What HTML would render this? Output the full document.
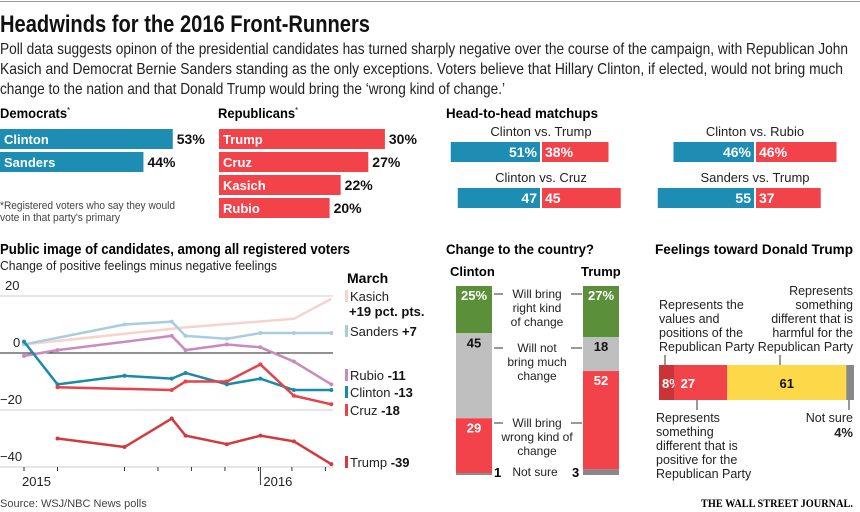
<!DOCTYPE html>
<html><head><meta charset="utf-8"><style>
html,body{margin:0;padding:0;background:#fff;}
svg{display:block;font-family:"Liberation Sans",sans-serif;}
.b{font-weight:bold;}
</style></head><body>
<svg id="g" width="860" height="512" viewBox="0 0 860 512">
<line x1="0" y1="1.5" x2="860" y2="1.5" stroke="#999"/>
<text x="0" y="32" font-size="24" class="b" textLength="370" lengthAdjust="spacingAndGlyphs" fill="#111">Headwinds for the 2016 Front-Runners</text>
<g font-size="16" fill="#222">
<text x="0" y="54" textLength="848" lengthAdjust="spacingAndGlyphs">Poll data suggests opinon of the presidential candidates has turned sharply negative over the course of the campaign, with Republican John</text>
<text x="0" y="74" textLength="843" lengthAdjust="spacingAndGlyphs">Kasich and Democrat Bernie Sanders standing as the only exceptions. Voters believe that Hillary Clinton, if elected, would not bring much</text>
<text x="0" y="94" textLength="505" lengthAdjust="spacingAndGlyphs">change to the nation and that Donald Trump would bring the ‘wrong kind of change.’</text>
</g>
<text x="0" y="118" font-size="14" class="b" textLength="70" lengthAdjust="spacingAndGlyphs">Democrats<tspan font-size="8" dy="-5" font-weight="normal">*</tspan></text>
<text x="218" y="118" font-size="14" class="b" textLength="80" lengthAdjust="spacingAndGlyphs">Republicans<tspan font-size="8" dy="-5" font-weight="normal">*</tspan></text>
<g font-size="11" fill="#444">
<text x="0" y="209" textLength="175" lengthAdjust="spacingAndGlyphs">*Registered voters who say they would</text>
<text x="0" y="221" textLength="120" lengthAdjust="spacingAndGlyphs">vote in that party's primary</text>
</g>
<text x="446" y="118" font-size="14" class="b" textLength="152" lengthAdjust="spacingAndGlyphs">Head-to-head matchups</text>
<g id="primary"></g>
<g id="h2h"></g>

<text x="0" y="254" font-size="15" class="b" textLength="350" lengthAdjust="spacingAndGlyphs">Public image of candidates, among all registered voters</text>
<text x="0" y="270" font-size="12.5" fill="#222" textLength="277" lengthAdjust="spacingAndGlyphs">Change of positive feelings minus negative feelings</text>
<text x="347" y="283" font-size="14" class="b">March</text>
<g id="lines"></g>
<text x="0" y="507" font-size="11" fill="#444">Source: WSJ/NBC News polls</text>

<text x="446" y="254" font-size="14" class="b" textLength="148" lengthAdjust="spacingAndGlyphs">Change to the country?</text>
<text x="450" y="276" font-size="13" class="b">Clinton</text>
<text x="581" y="276" font-size="13" class="b">Trump</text>
<g id="change"></g>
<g font-size="12" fill="#222" text-anchor="middle">
<text x="537" y="298">Will bring</text><text x="537" y="312">right kind</text><text x="537" y="326">of change</text>
<text x="537" y="352">Will not</text><text x="537" y="366">bring much</text><text x="537" y="380">change</text>
<text x="537" y="427">Will bring</text><text x="537" y="441">wrong kind of</text><text x="537" y="455">change</text>
<text x="535" y="476">Not sure</text>
</g>
<g stroke="#333" stroke-width="1">
<line x1="494" y1="294" x2="503" y2="294"/><line x1="571" y1="294" x2="582" y2="294"/>
<line x1="494" y1="348" x2="503" y2="348"/><line x1="571" y1="348" x2="582" y2="348"/>
<line x1="494" y1="423" x2="503" y2="423"/><line x1="571" y1="423" x2="582" y2="423"/>
</g>
<text x="494" y="477" font-size="13" class="b">1</text>
<text x="572" y="477" font-size="13" class="b">3</text>

<text x="655" y="254" font-size="14" class="b" textLength="198" lengthAdjust="spacingAndGlyphs">Feelings toward Donald Trump</text>
<g id="feel"></g>
<g font-size="12.5" fill="#222">
<text x="659" y="309">Represents the</text><text x="659" y="323">values and</text><text x="659" y="337">positions of the</text><text x="659" y="351">Republican Party</text>
<g text-anchor="end"><text x="853" y="295">Represents</text><text x="853" y="309">something</text><text x="853" y="323">different that is</text><text x="853" y="337">harmful for the</text><text x="853" y="351">Republican Party</text></g>
<text x="656" y="422">Represents</text><text x="656" y="436">something</text><text x="656" y="450">different that is</text><text x="656" y="464">positive for the</text><text x="656" y="478">Republican Party</text>
<text x="853" y="422" text-anchor="end">Not sure</text>
<text x="853" y="437" text-anchor="end" class="b" font-size="13">4%</text>
</g>
<g stroke="#333">
<line x1="665" y1="355" x2="665" y2="365"/><line x1="780" y1="355" x2="780" y2="365"/>
<line x1="697" y1="400" x2="697" y2="410"/><line x1="849" y1="400" x2="849" y2="410"/>
</g>
<text x="853" y="507" text-anchor="end" font-family="Liberation Serif, serif" font-size="12" class="b" textLength="152" lengthAdjust="spacingAndGlyphs">THE WALL STREET JOURNAL.</text>
</svg>
<script>
const NS='http://www.w3.org/2000/svg';
function mk(tag,attrs,parent,txt){const e=document.createElementNS(NS,tag);for(const k in attrs)e.setAttribute(k,attrs[k]);if(txt!==undefined)e.textContent=txt;parent.appendChild(e);return e;}
const BLUE='#1d8db3',RED='#f2424a',GREEN='#5b8f3a',GRAY='#bfbfbf',DGRAY='#888';

// primary polls
const demNames=['Clinton','Sanders'];
const demVals=[53,44];
const repNames=['Trump','Cruz','Kasich','Rubio'];
const repVals=[30,27,22,20];

// head-to-head
const h2hTitles=['Clinton vs. Trump','Clinton vs. Cruz','Clinton vs. Rubio','Sanders vs. Trump'];
const h2hDem=[51,47,46,55];
const h2hRep=[38,45,46,37];
const h2hDemLabel=['51%','47','46%','55'];
const h2hRepLabel=['38%','45','46%','37'];

// line chart
const pollMonths=[0,1.7,5.1,7.5,8.2,10.3,12,13.7,15.6];
const candNames=['Kasich','Sanders','Rubio','Clinton','Cruz','Trump'];
const kasichVals=[3,null,null,null,9,null,null,12,19];
const sandersVals=[3,null,10,11,6,5,7,7,7];
const rubioVals=[-1,1,null,6,1,3,2,-3,-11];
const clintonVals=[4,-11,-8,-9,-7,-11,-9,-13,-13];
const cruzVals=[null,-12,null,-13,-10,-10,-4,-15,-18];
const trumpVals=[null,-30,-33,-23,-29,-32,-29,-31,-39];
const yTicks=[20,0,-20,-40];
const xTickMonths=[0,1.7,5.1,6.8,8.5,10.2,11.9,13.6,15.3];

// change to the country
const changeCats=['right','notmuch','wrong','notsure'];
const clintonChange=[25,45,29,1];
const trumpChange=[27,18,52,3];

// feelings toward Trump
const feelCats=['represents-values','positive-different','harmful-different','not-sure'];
const feelVals=[8,27,61,4];

// ---- primary bars
const pg=document.getElementById('primary');
demVals.forEach((v,i)=>{
  const y=129+i*23;
  const r=mk('rect',{x:0,y:y,width:v*3.26,height:20,fill:BLUE},pg);
  
  
  const t=mk('text',{x:4,y:y+15,'font-size':13,'font-weight':'bold',fill:'#fff'},pg,demNames[i]);
  
  
  const t2=mk('text',{x:v*3.26+4,y:y+15,'font-size':14,'font-weight':'bold',fill:'#111'},pg,v+'%');
  
  
});
repVals.forEach((v,i)=>{
  const y=129+i*23;
  const r=mk('rect',{x:219,y:y,width:v*5.53,height:20,fill:RED},pg);
  
  
  const t=mk('text',{x:223,y:y+15,'font-size':13,'font-weight':'bold',fill:'#fff'},pg,repNames[i]);
  
  
  const t2=mk('text',{x:219+v*5.53+4,y:y+15,'font-size':14,'font-weight':'bold',fill:'#111'},pg,v+'%');
  
  
});

// ---- head to head
const hg=document.getElementById('h2h');
const hCx=[541,541,755,755], hY=[142,188,142,188];
h2hTitles.forEach((tt,i)=>{
  const cx=hCx[i], y=hY[i], s=1.75;
  const t=mk('text',{x:cx,y:y-6,'font-size':13,'text-anchor':'middle',fill:'#222'},hg,tt);
  
  
  const b1=mk('rect',{x:cx-1-h2hDem[i]*s,y:y,width:h2hDem[i]*s,height:20,fill:BLUE},hg);
  
  
  const b2=mk('rect',{x:cx+1,y:y,width:h2hRep[i]*s,height:20,fill:RED},hg);
  
  
  const l1=mk('text',{x:cx-4,y:y+15,'font-size':14,'font-weight':'bold','text-anchor':'end',fill:'#fff'},hg,h2hDemLabel[i]);
  
  
  const l2=mk('text',{x:cx+4,y:y+15,'font-size':14,'font-weight':'bold',fill:'#fff'},hg,h2hRepLabel[i]);
  
  
});

// ---- line chart
const lg=document.getElementById('lines');
const xM=m=>24+m*19.7, yV=v=>353-v*2.85;
yTicks.forEach(v=>{
  const l=mk('line',{x1:0,x2:333,y1:yV(v),y2:yV(v),stroke:v===0?'#222':'#ccc','stroke-width':1},lg);
  
  
  const t=mk('text',{x:v<0?0:(v===0?13:5),y:yV(v)-6,'font-size':13,fill:'#222'},lg,String(v).replace('-','−'));
  
  
});
xTickMonths.forEach(m=>{
  const l=mk('line',{x1:xM(m),x2:xM(m),y1:467,y2:471,stroke:'#333'},lg);
  
  
});
const yr=mk('line',{x1:xM(12),x2:xM(12),y1:467,y2:485,stroke:'#333'},lg);


const x1=mk('text',{x:22,y:486,'font-size':13,fill:'#222'},lg,'2015');


const x2=mk('text',{x:xM(12)+3,y:486,'font-size':13,fill:'#222'},lg,'2016');


const series=[kasichVals,sandersVals,rubioVals,clintonVals,cruzVals,trumpVals];
const cols=['#f6d4cc','#a8cde0','#c98bbd','#1a8aa6','#e5424a','#d23a40'];
series.forEach((vals,si)=>{
  const pts=[];
  vals.forEach((v,i)=>{if(v!==null)pts.push([xM(pollMonths[i]),yV(v)]);});
  const p=mk('polyline',{points:pts.map(p=>p.join(',')).join(' '),fill:'none',stroke:cols[si],'stroke-width':2.5,'stroke-linejoin':'round'},lg);
  
  
  if(si>0){pts.forEach(q=>{
    const c=mk('circle',{cx:q[0],cy:q[1],r:2,fill:cols[si]},lg);
    
    
  });}
});
const legY=[301,336,380,397,415,467];
candNames.forEach((n,i)=>{
  const last=series[i][series[i].length-1];
  const sw=mk('rect',{x:345,y:legY[i]-11,width:3,height:12,fill:cols[i]},lg);
  
  
  const t=mk('text',{x:350,y:legY[i],'font-size':13,fill:'#222'},lg,n+' ');
  
  
  const val=(last>0?'+':'-')+Math.abs(last);
  if(i===0){
    const t3=mk('text',{x:349,y:legY[i]+15,'font-size':13,'font-weight':'bold',fill:'#111'},lg,val+' pct. pts.');
    
    
  } else {
    const ts=mk('tspan',{'font-weight':'bold',fill:'#111'},t,val);
    
    
  }
});

// ---- change to the country
const cg=document.getElementById('change');
const cCols=[GREEN,GRAY,RED,DGRAY], cs=1.89;
[[clintonChange,456,'clinton'],[trumpChange,583,'trump']].forEach(([vals,x,nm])=>{
  let y=286;
  vals.forEach((v,i)=>{
    const h=v*cs;
    const r=mk('rect',{x:x,y:y,width:36,height:h,fill:cCols[i]},cg);
    
    
    if(i<3){
      const t=mk('text',{x:x+18,y:y+14,'font-size':13,'font-weight':'bold','text-anchor':'middle',fill:i===1?'#111':'#fff'},cg,v+(i===0?'%':''));
      
      
    }
    y+=h;
  });
});

// ---- feelings
const fg=document.getElementById('feel');
const fCols=['#cc3338','#f2424a','#fdd94a','#888'];
let fx=659;
feelVals.forEach((v,i)=>{
  const w=v*1.95;
  const r=mk('rect',{x:fx,y:365,width:w,height:35,fill:fCols[i]},fg);
  
  
  if(i<3){
    const lx=i===2?fx+w/2:fx+3+(i===1?3:0);
    const t=mk('text',{x:lx,y:388,'font-size':13,'font-weight':'bold','text-anchor':i===2?'middle':'start',fill:i===2?'#111':'#fff'},fg,v+(i===0?'%':''));
    
    
  }
  fx+=w;
});
</script>
</body></html>
